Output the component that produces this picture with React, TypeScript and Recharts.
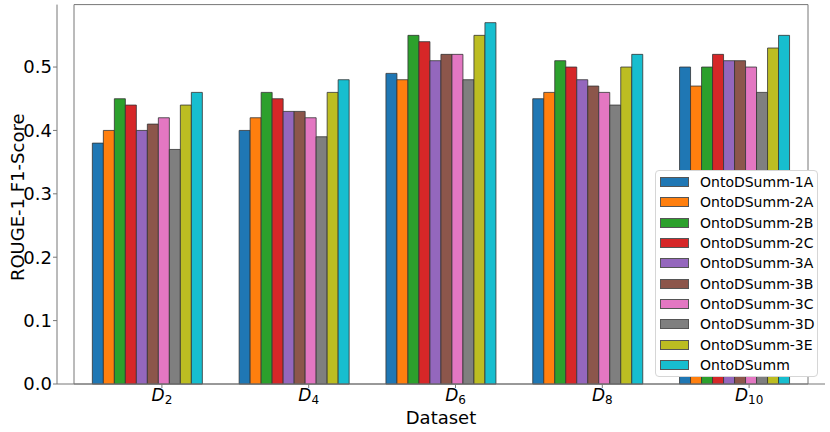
import React from "react";
import { BarChart, Bar, XAxis, YAxis, Legend, ReferenceArea } from "recharts";

const datasets = ["D2", "D4", "D6", "D8", "D10"];
const subscripts = ["2", "4", "6", "8", "10"];

const modelNames = [
  "OntoDSumm-1A",
  "OntoDSumm-2A",
  "OntoDSumm-2B",
  "OntoDSumm-2C",
  "OntoDSumm-3A",
  "OntoDSumm-3B",
  "OntoDSumm-3C",
  "OntoDSumm-3D",
  "OntoDSumm-3E",
  "OntoDSumm",
];

const colors = [
  "#1f77b4",
  "#ff7f0e",
  "#2ca02c",
  "#d62728",
  "#9467bd",
  "#8c564b",
  "#e377c2",
  "#7f7f7f",
  "#bcbd22",
  "#17becf",
];

// one array per model, in dataset order D2..D10
const onto1A = [0.38, 0.4, 0.49, 0.45, 0.5];
const onto2A = [0.4, 0.42, 0.48, 0.46, 0.47];
const onto2B = [0.45, 0.46, 0.55, 0.51, 0.5];
const onto2C = [0.44, 0.45, 0.54, 0.5, 0.52];
const onto3A = [0.4, 0.43, 0.51, 0.48, 0.51];
const onto3B = [0.41, 0.43, 0.52, 0.47, 0.51];
const onto3C = [0.42, 0.42, 0.52, 0.46, 0.5];
const onto3D = [0.37, 0.39, 0.48, 0.44, 0.46];
const onto3E = [0.44, 0.46, 0.55, 0.5, 0.53];
const ontoDSumm = [0.46, 0.48, 0.57, 0.52, 0.55];

const seriesValues = [onto1A, onto2A, onto2B, onto2C, onto3A, onto3B, onto3C, onto3D, onto3E, ontoDSumm];

const yTicks = [0, 0.1, 0.2, 0.3, 0.4, 0.5];
const Y_MAX = 0.5985;

const data = datasets.map((name, i) => {
  const row: Record<string, string | number> = { name, sub: subscripts[i] };
  modelNames.forEach((m, j) => {
    row[m] = seriesValues[j][i];
  });
  return row;
});

const FONT = "DejaVu Sans, sans-serif";
const AXIS_COLOR = "#777";
// matplotlib's tick sits right of the group centre
const TICK_SHIFT = 14.5;

function DatasetTick(props: any) {
  const { x, y, payload, index } = props;
  const tx = x + TICK_SHIFT;
  return (
    <g>
      <line x1={tx} x2={tx} y1={y - 4} y2={y} stroke={AXIS_COLOR} strokeWidth={1} />
      <text x={tx} y={y + 13} textAnchor="middle" fontSize={17} fontFamily={FONT} fill="#000">
        <tspan fontStyle="italic">D</tspan>
        <tspan fontSize={12} dy={3}>
          {subscripts[index] ?? payload.value}
        </tspan>
      </text>
    </g>
  );
}

function YTitle(props: any) {
  const { viewBox } = props;
  const cx = viewBox.x + 24;
  const cy = viewBox.y + viewBox.height / 2 + 3;
  return (
    <text
      transform={`translate(${cx}, ${cy}) rotate(-90)`}
      textAnchor="middle"
      fontSize={18}
      fontFamily={FONT}
      fill="#000"
    >
      ROUGE-1 F1-Score
    </text>
  );
}

function XTitle(props: any) {
  const { viewBox } = props;
  return (
    <text
      x={viewBox.x + viewBox.width / 2}
      y={viewBox.y + 39.5}
      textAnchor="middle"
      fontSize={18}
      fontFamily={FONT}
      fill="#000"
    >
      Dataset
    </text>
  );
}

function LegendBox() {
  return (
    <div
      style={{
        background: "#fff",
        border: "1px solid #d6d6d6",
        borderRadius: 4,
        padding: "1px 0 1px 4px",
        boxSizing: "border-box",
        width: 163,
        fontFamily: FONT,
        fontSize: 14,
        color: "#000",
      }}
    >
      {modelNames.map((m, i) => (
        <div key={m} style={{ display: "flex", alignItems: "center", height: 20.3 }}>
          <span
            style={{
              display: "inline-block",
              width: 27,
              height: 8,
              background: colors[i],
              border: "1px solid #555",
              marginRight: 11,
            }}
          />
          <span>{m}</span>
        </div>
      ))}
    </div>
  );
}

export default function App() {
  return (
    <div style={{ width: 830, height: 432, background: "#fff" }}>
      <style>{"body{margin:0}"}</style>
      <BarChart
        width={830}
        height={432}
        data={data}
        margin={{ top: 4.6, right: 5, bottom: 0, left: 0 }}
        barCategoryGap="12.5%"
        barGap={0}
      >
        <XAxis
          dataKey="name"
          height={48}
          padding={{ left: 17, right: 17 }}
          tickLine={false}
          tickSize={4}
          tickMargin={0}
          axisLine={{ stroke: AXIS_COLOR }}
          tick={<DatasetTick />}
          interval={0}
          label={<XTitle />}
        />
        <YAxis
          width={57}
          domain={[0, Y_MAX]}
          ticks={yTicks}
          tickFormatter={(v: number) => v.toFixed(1)}
          tick={{ fontSize: 18, fill: "#000", fontFamily: FONT }}
          tickSize={4}
          tickMargin={1}
          tickLine={{ stroke: AXIS_COLOR }}
          axisLine={{ stroke: AXIS_COLOR }}
          label={<YTitle />}
        />
        {modelNames.map((m, i) => (
          <Bar
            key={m}
            dataKey={m}
            fill={colors[i]}
            stroke="#333"
            strokeWidth={0.8}
            isAnimationActive={false}
          />
        ))}
        <ReferenceArea
          y1={0}
          y2={Y_MAX}
          fill="none"
          fillOpacity={0}
          stroke={AXIS_COLOR}
          strokeWidth={1}
        />
        <Legend
          layout="vertical"
          align="center"
          verticalAlign="middle"
          wrapperStyle={{ top: 170, left: 655, width: 163 }}
          content={<LegendBox />}
        />
      </BarChart>
    </div>
  );
}
